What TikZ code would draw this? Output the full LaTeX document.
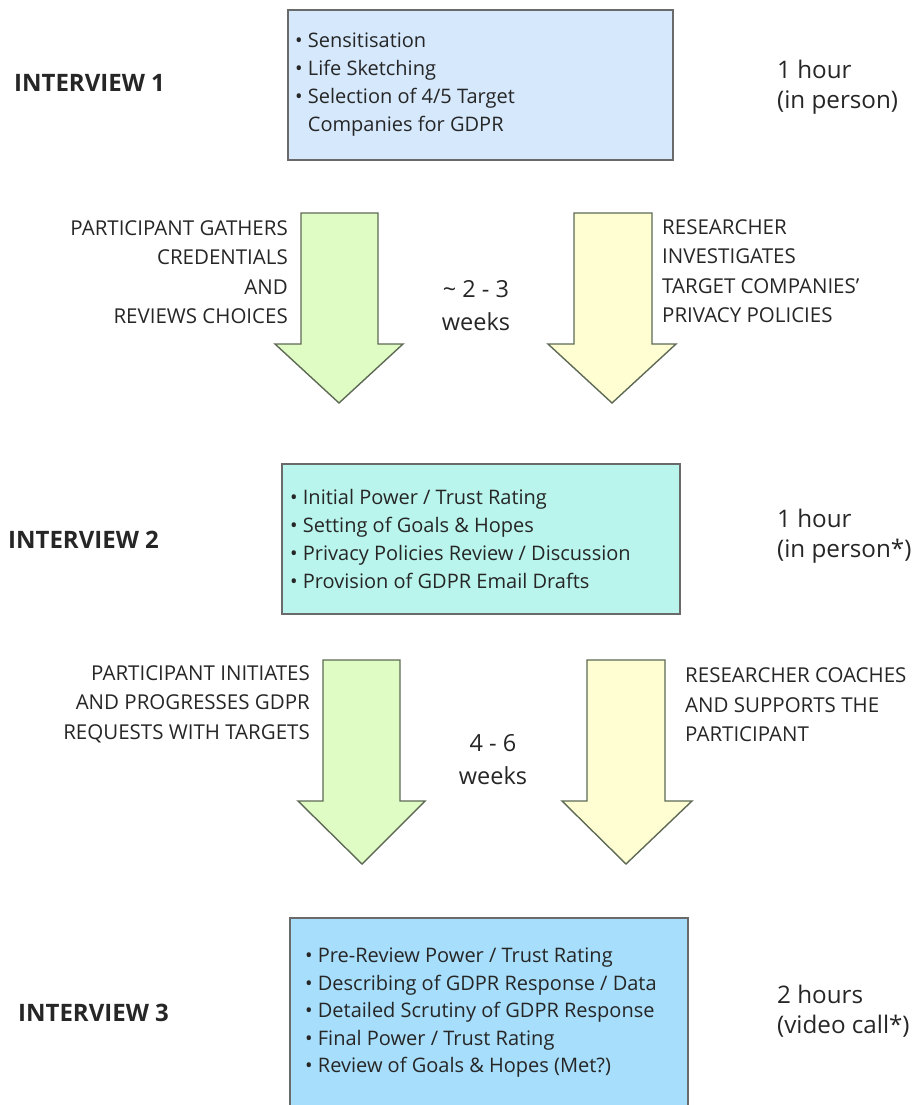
\documentclass[tikz,border=0pt]{standalone}
\usepackage{fontspec}
\setmainfont{Open Sans}
\usepackage{tikz}
\usetikzlibrary{positioning}

\definecolor{boxone}{HTML}{D5E8FC}
\definecolor{boxtwo}{HTML}{B9F5EC}
\definecolor{boxthree}{HTML}{A7DEFB}
\definecolor{greenfill}{HTML}{DFFCC4}
\definecolor{yellowfill}{HTML}{FEFED2}
\definecolor{boxline}{HTML}{6A6A6A}
\definecolor{arrowline}{HTML}{5E6A55}
\definecolor{ink}{HTML}{262626}

\tikzset{
  every node/.style={text=ink, inner sep=0pt},
  stagebox/.style={draw=boxline, line width=1.6pt, anchor=north west},
  stagetext/.style={align=left, font={\fontsize{20}{28}\selectfont}},
  stagelabel/.style={anchor=west, font={\fontsize{24}{28}\selectfont\bfseries}},
  timelabel/.style={anchor=west, align=left, font={\fontsize{24.2}{30}\selectfont}},
  gaplabel/.style={align=center, font={\fontsize{23.5}{33}\selectfont}},
  tasklabel/.style={font={\fontsize{20.5}{29.5}\selectfont}},
  greenarrow/.style={draw=arrowline, fill=greenfill, line width=1.4pt, line join=miter},
  yellowarrow/.style={draw=arrowline, fill=yellowfill, line width=1.4pt, line join=miter}
}

\begin{document}
\begin{tikzpicture}[x=1pt,y=-1pt]
\useasboundingbox (0,0) rectangle (918,1105);
\clip (0,0) rectangle (918,1105);

% interview 1
\node[stagebox, fill=boxone, minimum width=385pt, minimum height=150pt] (box1) at (287,9) {};
\node[stagetext, right=8pt of box1.west] (list1)
  {• Sensitisation\\ • Life Sketching\\ • Selection of 4/5 Target\\ \phantom{• }Companies for GDPR};
\node[stagelabel] (int1) at (14,83) {INTERVIEW 1};
\node[timelabel] (time1) at (777,87) {1 hour\\ (in person)};

% gap 1
\draw[greenarrow] (301,213) -- (378,213) -- (378,344) -- (403,344) -- (339,403)
  -- (275,344) -- (301,344) -- cycle;
\draw[yellowarrow] (574,213) -- (652,213) -- (652,344) -- (676,344) -- (612,403)
  -- (548,344) -- (574,344) -- cycle;
\node[tasklabel, anchor=east, align=right] (task1a) at (288,272)
  {PARTICIPANT GATHERS\\ CREDENTIALS\\ AND\\ REVIEWS CHOICES};
\node[tasklabel, anchor=west, align=left] (task1b) at (662,271)
  {RESEARCHER\\ INVESTIGATES\\ TARGET COMPANIES'\\ PRIVACY POLICIES};
\node[gaplabel] (gap1) at (476,306) {\textasciitilde\ 2 - 3\\ weeks};

% interview 2
\node[stagebox, fill=boxtwo, minimum width=398pt, minimum height=150pt] (box2) at (281,463) {};
\node[stagetext, right=9pt of box2.west] (list2)
  {• Initial Power / Trust Rating\\ • Setting of Goals \& Hopes\\
   • Privacy Policies Review / Discussion\\ • Provision of GDPR Email Drafts};
\node[stagelabel] (int2) at (8,540) {INTERVIEW 2};
\node[timelabel] (time2) at (777,536) {1 hour\\ (in person*)};

% gap 2
\draw[greenarrow] (323,660) -- (400,660) -- (400,801) -- (425,801) -- (362,864)
  -- (298,801) -- (323,801) -- cycle;
\draw[yellowarrow] (587,660) -- (665,660) -- (665,801) -- (692,801) -- (626,864)
  -- (562,801) -- (587,801) -- cycle;
\node[tasklabel, anchor=east, align=right] (task2a) at (310,704)
  {PARTICIPANT INITIATES\\ AND PROGRESSES GDPR\\ REQUESTS WITH TARGETS};
\node[tasklabel, anchor=west, align=left] (task2b) at (685,705)
  {RESEARCHER COACHES\\ AND SUPPORTS THE\\ PARTICIPANT};
\node[gaplabel] (gap2) at (493,760) {4 - 6\\ weeks};

% interview 3
\node[stagebox, fill=boxthree, minimum width=398pt, minimum height=190pt] (box3) at (289,917) {};
\node[stagetext, right=16pt of box3.west, font={\fontsize{20}{27.5}\selectfont}] (list3)
  {• Pre-Review Power / Trust Rating\\ • Describing of GDPR Response / Data\\
   • Detailed Scrutiny of GDPR Response\\ • Final Power / Trust Rating\\
   • Review of Goals \& Hopes (Met?)};
\node[stagelabel] (int3) at (18,1013) {INTERVIEW 3};
\node[timelabel] (time3) at (777,1011) {2 hours\\ (video call*)};
\end{tikzpicture}
\end{document}
